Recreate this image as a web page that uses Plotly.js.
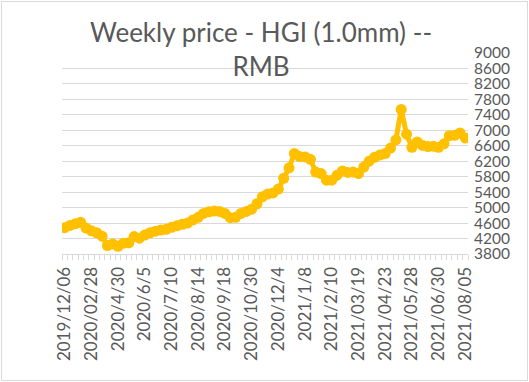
<!DOCTYPE html>
<html>
<head>
<meta charset="utf-8">
<script src="https://cdn.plot.ly/plotly-3.0.1.min.js"></script>
<style>
  html, body { margin: 0; padding: 0; background: #fff; }
  #wrap { position: relative; width: 529px; height: 382px; }
  #chart { position: absolute; left: 0; top: 0; width: 529px; height: 382px; }
  #frame { position: absolute; left: 1px; top: 1px; width: 527px; height: 380px; box-sizing: border-box; border: 1px solid #d9d9d9; pointer-events: none; }
</style>
</head>
<body>
<div id="wrap"><div id="chart"></div><div id="frame"></div></div>
<script>
// Weekly price values (RMB), one per week
const prices = [
  4480, 4540, 4580, 4620, 4470, 4400, 4350, 4260, 4020, 4060,
  4000, 4080, 4090, 4250, 4210, 4290, 4350, 4390, 4420, 4440,
  4490, 4530, 4570, 4600, 4680, 4750, 4850, 4890, 4910, 4900,
  4850, 4740, 4750, 4850, 4900, 4960, 5100, 5280, 5350, 5380,
  5480, 5760, 6030, 6400, 6320, 6310, 6250, 5920, 5880, 5710,
  5710, 5840, 5950, 5910, 5920, 5880, 6050, 6200, 6300, 6360,
  6400, 6540, 6750, 7540, 6900, 6560, 6700, 6610, 6580, 6590,
  6560, 6650, 6860, 6870, 6930, 6800
];
// Category tick labels (shown every 5th week)
const tickLabels = [
  "2019/12/06", "2020/02/28", "2020/4/30", "2020/6/5", "2020/7/10",
  "2020/8/14", "2020/9/18", "2020/10/30", "2020/12/4", "2021/1/8",
  "2021/2/10", "2021/03/19", "2021/04/23", "2021/05/28", "2021/06/30",
  "2021/08/05"
];
const labelEvery = 5;
const yTicks = [3800, 4200, 4600, 5000, 5400, 5800, 6200, 6600, 7000, 7400, 7800, 8200, 8600, 9000];

const idx = prices.map((_, i) => i);
const tickPos = tickLabels.map((_, k) => k * labelEvery);
const boundaries = [];
for (let i = 0; i <= prices.length; i++) boundaries.push(i - 0.5);

const font = "Lato, 'Noto Sans', sans-serif";
const gray = "#595959";

const trace = {
  x: idx,
  y: prices,
  type: "scatter",
  mode: "lines+markers",
  line: { color: "#FFC000", width: 5 },
  marker: { color: "#FFC000", size: 11 },
  hoverinfo: "y"
};

const layout = {
  width: 529,
  height: 382,
  margin: { l: 62, r: 61, t: 53, b: 128, pad: 0 },
  paper_bgcolor: "#ffffff",
  plot_bgcolor: "#ffffff",
  showlegend: false,
  font: { family: font, color: gray },
  title: {
    text: "Weekly price - HGI (1.0mm) --<br>RMB",
    font: { family: font, size: 26, color: gray },
    xref: "container", x: 0.4934, xanchor: "center",
    yref: "container", y: 1 - 42 / 382, yanchor: "top"
  },
  xaxis: {
    range: [-0.5, prices.length - 0.5],
    tickmode: "array",
    tickvals: tickPos,
    ticktext: tickLabels,
    tickangle: -90,
    tickfont: { family: font, size: 17, color: gray },
    showgrid: false,
    zeroline: false,
    showline: true,
    linecolor: "#d9d9d9",
    linewidth: 1,
    ticks: "outside",
    ticklen: 5,
    tickcolor: "rgba(0,0,0,0)",
    minor: {
      tickmode: "array",
      tickvals: boundaries,
      ticks: "outside",
      ticklen: 5,
      tickcolor: "#d9d9d9",
      tickwidth: 1,
      showgrid: false
    },
    fixedrange: true
  },
  yaxis: {
    side: "right",
    range: [3800, 9000],
    tickmode: "array",
    tickvals: yTicks,
    ticktext: yTicks.map(String),
    tickfont: { family: font, size: 15.5, color: gray },
    ticklabelstandoff: 5,
    showgrid: true,
    gridcolor: "#d9d9d9",
    gridwidth: 1,
    zeroline: false,
    showline: false,
    ticks: "",
    fixedrange: true
  }
};

Plotly.newPlot("chart", [trace], layout, { displayModeBar: false, staticPlot: true });
</script>
</body>
</html>
